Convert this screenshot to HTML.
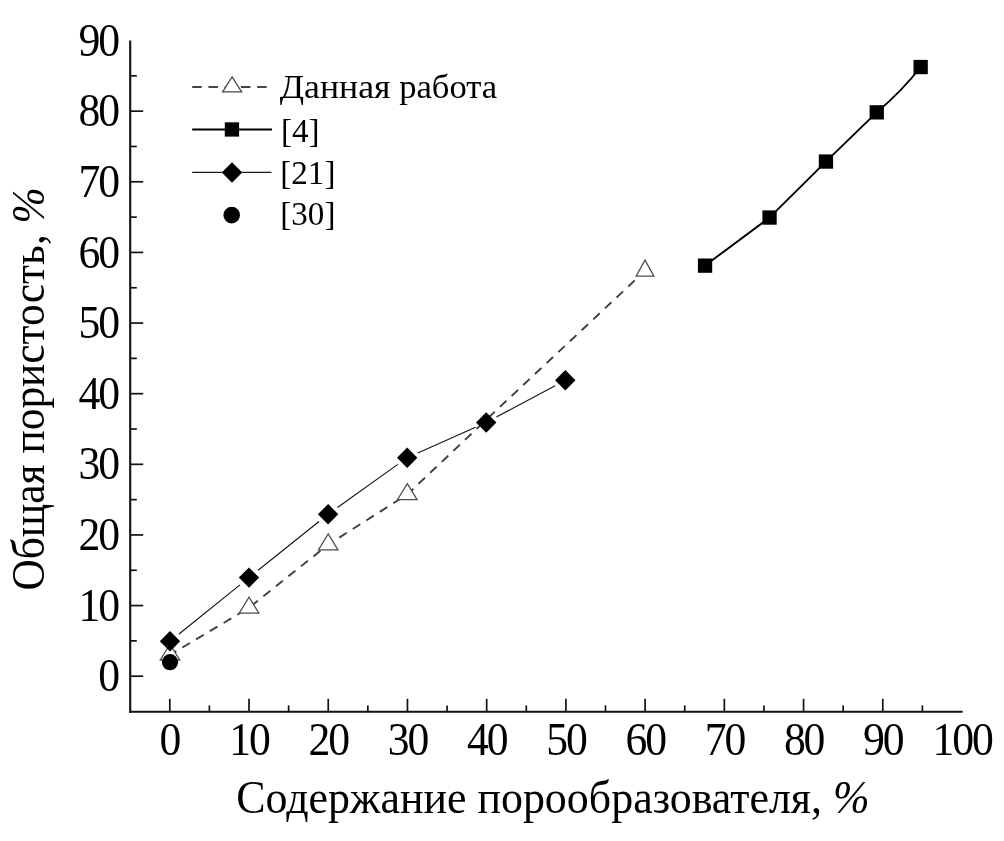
<!DOCTYPE html>
<html lang="ru"><head><meta charset="utf-8"><title>Общая пористость</title>
<style>html,body{margin:0;padding:0;background:#fff}svg{display:block}text{font-family:"Liberation Serif", serif;fill:#000}</style>
</head><body>
<svg width="1004" height="841" viewBox="0 0 1004 841">
<rect width="1004" height="841" fill="#fff"/>
<g stroke="#111" stroke-width="2.10" fill="none" stroke-linecap="butt">
<path d="M130.20 40.5V712.85"/>
<path d="M129.15 711.80H962.6"/>
</g>
<g stroke="#111" stroke-width="1.7" fill="none">
<path d="M130.20 676.20H143.2"/>
<path d="M130.20 605.57H143.2"/>
<path d="M130.20 534.94H143.2"/>
<path d="M130.20 464.31H143.2"/>
<path d="M130.20 393.68H143.2"/>
<path d="M130.20 323.05H143.2"/>
<path d="M130.20 252.42H143.2"/>
<path d="M130.20 181.79H143.2"/>
<path d="M130.20 111.16H143.2"/>
<path d="M130.20 640.88H136.8"/>
<path d="M130.20 570.26H136.8"/>
<path d="M130.20 499.63H136.8"/>
<path d="M130.20 429.00H136.8"/>
<path d="M130.20 358.37H136.8"/>
<path d="M130.20 287.74H136.8"/>
<path d="M130.20 217.11H136.8"/>
<path d="M130.20 146.48H136.8"/>
<path d="M130.20 75.85H136.8"/>
<path d="M169.80 711.80V698.8"/>
<path d="M249.02 711.80V698.8"/>
<path d="M328.24 711.80V698.8"/>
<path d="M407.46 711.80V698.8"/>
<path d="M486.68 711.80V698.8"/>
<path d="M565.90 711.80V698.8"/>
<path d="M645.12 711.80V698.8"/>
<path d="M724.34 711.80V698.8"/>
<path d="M803.56 711.80V698.8"/>
<path d="M882.78 711.80V698.8"/>
<path d="M209.41 711.80V705.4"/>
<path d="M288.63 711.80V705.4"/>
<path d="M367.85 711.80V705.4"/>
<path d="M447.07 711.80V705.4"/>
<path d="M526.29 711.80V705.4"/>
<path d="M605.51 711.80V705.4"/>
<path d="M684.73 711.80V705.4"/>
<path d="M763.95 711.80V705.4"/>
<path d="M843.17 711.80V705.4"/>
<path d="M922.39 711.80V705.4"/>
</g>
<g font-size="45.5">
<text transform="translate(109.10 691.30) scale(0.960 1)" x="-11.38">0</text>
<text transform="translate(99.25 620.67) scale(0.960 1)" x="-21.64 -1.11">10</text>
<text transform="translate(99.25 550.04) scale(0.960 1)" x="-21.64 -1.11">20</text>
<text transform="translate(99.25 479.41) scale(0.960 1)" x="-21.64 -1.11">30</text>
<text transform="translate(99.25 408.78) scale(0.960 1)" x="-21.64 -1.11">40</text>
<text transform="translate(99.25 338.15) scale(0.960 1)" x="-21.64 -1.11">50</text>
<text transform="translate(99.25 267.52) scale(0.960 1)" x="-21.64 -1.11">60</text>
<text transform="translate(99.25 196.89) scale(0.960 1)" x="-21.64 -1.11">70</text>
<text transform="translate(99.25 126.26) scale(0.960 1)" x="-21.64 -1.11">80</text>
<text transform="translate(99.25 55.63) scale(0.960 1)" x="-21.64 -1.11">90</text>
<text transform="translate(170.40 754.60) scale(0.960 1)" x="-11.38">0</text>
<text transform="translate(250.12 754.60) scale(0.960 1)" x="-21.64 -1.11">10</text>
<text transform="translate(329.34 754.60) scale(0.960 1)" x="-21.64 -1.11">20</text>
<text transform="translate(408.56 754.60) scale(0.960 1)" x="-21.64 -1.11">30</text>
<text transform="translate(487.78 754.60) scale(0.960 1)" x="-21.64 -1.11">40</text>
<text transform="translate(567.00 754.60) scale(0.960 1)" x="-21.64 -1.11">50</text>
<text transform="translate(646.22 754.60) scale(0.960 1)" x="-21.64 -1.11">60</text>
<text transform="translate(725.44 754.60) scale(0.960 1)" x="-21.64 -1.11">70</text>
<text transform="translate(804.66 754.60) scale(0.960 1)" x="-21.64 -1.11">80</text>
<text transform="translate(883.88 754.60) scale(0.960 1)" x="-21.64 -1.11">90</text>
<text transform="translate(963.10 754.60) scale(0.960 1)" x="-31.90 -11.38 9.15">100</text>
</g>
<text transform="translate(236.2 812.6) scale(0.966 1)" font-size="45.5">Содержание порообразователя, <tspan font-style="italic">%</tspan></text>
<text transform="translate(43.5 590.6) rotate(-90) scale(0.955 1)" font-size="45.5">Общая пористость, <tspan font-style="italic">%</tspan></text>
<polyline points="170.0,654.9 249.0,607.8 328.2,544.6 407.3,494.4 486.5,419.5 645.0,270.8" fill="none" stroke="#3e3e3e" stroke-width="1.9" stroke-dasharray="8.9 7.1" stroke-dashoffset="1.6"/>
<path d="M170.0 644.2L179.8 660.2L160.2 660.2Z" fill="#fff" stroke="#4c4c4c" stroke-width="1.25" stroke-linejoin="miter"/>
<path d="M249.0 597.1L258.8 613.1L239.2 613.1Z" fill="#fff" stroke="#4c4c4c" stroke-width="1.25" stroke-linejoin="miter"/>
<path d="M328.2 533.9L338.0 549.9L318.4 549.9Z" fill="#fff" stroke="#4c4c4c" stroke-width="1.25" stroke-linejoin="miter"/>
<path d="M407.3 483.7L417.1 499.7L397.5 499.7Z" fill="#fff" stroke="#4c4c4c" stroke-width="1.25" stroke-linejoin="miter"/>
<path d="M645.0 260.1L653.9 276.1L636.1 276.1Z" fill="#fff" stroke="#4c4c4c" stroke-width="1.25" stroke-linejoin="miter"/>
<path d="M179.0 634.0L240.0 584.9M258.1 570.3L319.0 521.5M337.5 507.5L397.8 464.4M417.8 453.0L475.6 427.2M496.4 417.0L555.1 385.8" fill="none" stroke="#151515" stroke-width="1.15"/>
<path d="M170.0 631.1L180.2 641.3L170.0 651.5L159.8 641.3Z" fill="#000"/>
<path d="M249.0 567.4L259.2 577.6L249.0 587.8L238.8 577.6Z" fill="#000"/>
<path d="M328.1 504.0L338.3 514.2L328.1 524.4L317.9 514.2Z" fill="#000"/>
<path d="M407.2 447.5L417.4 457.7L407.2 467.9L397.0 457.7Z" fill="#000"/>
<path d="M486.2 412.3L496.4 422.5L486.2 432.7L476.0 422.5Z" fill="#000"/>
<path d="M565.3 370.1L575.5 380.3L565.3 390.5L555.1 380.3Z" fill="#000"/>
<circle cx="170" cy="662.2" r="8.1" fill="#000"/>
<path d="M705.0 265.6L769.5 217.6L825.9 161.6L876.7 112.4Q902.5 90.5 920.6 67.0" fill="none" stroke="#000" stroke-width="1.9"/>
<rect x="697.9" y="258.5" width="14.3" height="14.3" fill="#000"/>
<rect x="762.4" y="210.4" width="14.3" height="14.3" fill="#000"/>
<rect x="818.8" y="154.4" width="14.3" height="14.3" fill="#000"/>
<rect x="869.6" y="105.2" width="14.3" height="14.3" fill="#000"/>
<rect x="913.5" y="59.9" width="14.3" height="14.3" fill="#000"/>
<path d="M192.2 87.1H266.8" fill="none" stroke="#444" stroke-width="2" stroke-dasharray="9.5 6.75"/>
<path d="M232.1 76.9L241.6 91.9L222.6 91.9Z" fill="#fff" stroke="#4a4a4a" stroke-width="1.3"/>
<path d="M192.2 129.5H272" fill="none" stroke="#000" stroke-width="2.2"/>
<rect x="224.8" y="122.3" width="14.3" height="14.3" fill="#000"/>
<path d="M192.2 172.4H271.5" fill="none" stroke="#1a1a1a" stroke-width="1.2"/>
<path d="M232.0 162.3L242.2 172.5L232.0 182.7L221.8 172.5Z" fill="#000"/>
<circle cx="231.7" cy="215.1" r="8.3" fill="#000"/>
<text y="97.6" font-size="33.5"><tspan x="279.7" textLength="110.8" lengthAdjust="spacingAndGlyphs">Данная</tspan> <tspan x="399.2" textLength="98" lengthAdjust="spacingAndGlyphs">работа</tspan></text>
<g font-size="34.5">
<text transform="translate(281 142.2) scale(0.96 1)">[4]</text>
<text transform="translate(280.3 184) scale(0.96 1)">[21]</text>
<text transform="translate(280.3 225.2) scale(0.96 1)">[30]</text>
</g>
</svg>
</body></html>
